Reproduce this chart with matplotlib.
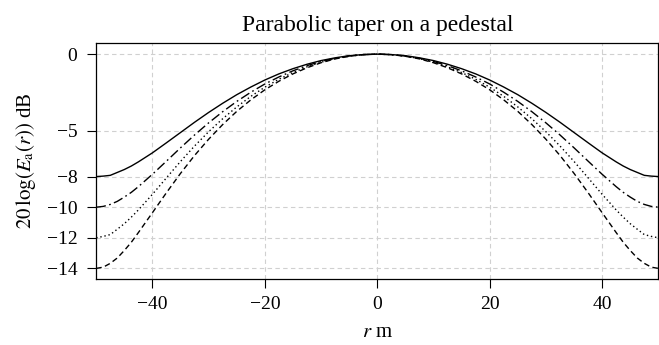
import matplotlib
matplotlib.use("Agg")
import matplotlib.pyplot as plt

# radius positions (m) and edge-taper curves in dB
r = [-50, -48.75, -47.5, -46.25, -45, -43.75, -42.5, -40, -37.5, -35, -32.5, -30, -27.5,
     -25, -22.5, -20, -17.5, -15, -12.5, -10, -7.5, -5, -2.5, 0, 2.5, 5, 7.5, 10, 12.5,
     15, 17.5, 20, 22.5, 25, 27.5, 30, 32.5, 35, 37.5, 40, 42.5, 43.75, 45, 46.25, 47.5,
     48.75, 50]

taper_8 = [-8.00, -7.97, -7.92, -7.73, -7.54, -7.31, -7.04, -6.45, -5.79, -5.12, -4.45,
           -3.81, -3.21, -2.65, -2.15, -1.69, -1.29, -0.95, -0.66, -0.42, -0.24, -0.10,
           -0.03, 0.0, -0.03, -0.10, -0.24, -0.42, -0.66, -0.95, -1.29, -1.69, -2.15,
           -2.65, -3.21, -3.81, -4.45, -5.12, -5.79, -6.45, -7.04, -7.31, -7.54, -7.73,
           -7.92, -7.97, -8.00]
taper_10 = [-10.00, -9.95, -9.82, -9.62, -9.34, -9.03, -8.66, -7.85, -6.99, -6.12, -5.28,
            -4.49, -3.76, -3.09, -2.49, -1.95, -1.49, -1.09, -0.75, -0.48, -0.27, -0.12,
            -0.03, 0.0, -0.03, -0.12, -0.27, -0.48, -0.75, -1.09, -1.49, -1.95, -2.49,
            -3.09, -3.76, -4.49, -5.28, -6.12, -6.99, -7.85, -8.66, -9.03, -9.34, -9.62,
            -9.82, -9.95, -10.00]
taper_12 = [-12.00, -11.91, -11.79, -11.44, -11.08, -10.65, -10.18, -9.16, -8.08, -7.01,
            -6.00, -5.07, -4.22, -3.45, -2.76, -2.16, -1.64, -1.20, -0.83, -0.53, -0.29,
            -0.13, -0.03, 0.0, -0.03, -0.13, -0.29, -0.53, -0.83, -1.20, -1.64, -2.16,
            -2.76, -3.45, -4.22, -5.07, -6.00, -7.01, -8.08, -9.16, -10.18, -10.65, -11.08,
            -11.44, -11.79, -11.91, -12.00]
taper_14 = [-14.00, -13.92, -13.67, -13.32, -12.83, -12.29, -11.66, -10.36, -9.05, -7.79,
            -6.62, -5.56, -4.60, -3.74, -2.99, -2.33, -1.77, -1.29, -0.89, -0.56, -0.31,
            -0.14, -0.03, 0.0, -0.03, -0.14, -0.31, -0.56, -0.89, -1.29, -1.77, -2.33,
            -2.99, -3.74, -4.60, -5.56, -6.62, -7.79, -9.05, -10.36, -11.66, -12.29, -12.83,
            -13.32, -13.67, -13.92, -14.00]

x_ticks = [-40, -20, 0, 20, 40]
y_ticks = [0, -5, -8, -10, -12, -14]

plt.rcParams['font.family'] = ['Liberation Serif', 'DejaVu Serif']
plt.rcParams['mathtext.fontset'] = 'stix'

fig = plt.figure(figsize=(6.59, 3.45), dpi=100)
ax = fig.add_axes([0.146, 0.191, 0.853, 0.684])

# grid first so curves sit on top
for xt in x_ticks:
    ax.axvline(xt, color='#d0d0d0', lw=0.8, ls=(0, (4, 3)), zorder=0)
for yt in y_ticks:
    ax.axhline(yt, color='#d0d0d0', lw=0.8, ls=(0, (4, 3)), zorder=0)

ax.plot(r, taper_8, color='black', lw=1.0, ls='-')
ax.plot(r, taper_10, color='black', lw=1.0, ls=(0, (7, 2.5, 1.2, 2.5)))
ax.plot(r, taper_12, color='black', lw=1.0, ls=(0, (1, 2)))
ax.plot(r, taper_14, color='black', lw=1.0, ls=(0, (4, 2.5)))

ax.set_xlim(-50, 50)
ax.set_ylim(-14.7, 0.72)
ax.set_xticks(x_ticks)
ax.set_yticks(y_ticks)
ax.tick_params(direction='out', length=6.5, width=0.8, labelsize=14)
ax.tick_params(axis='x', pad=6)
ax.tick_params(axis='y', pad=7)
for sp in ax.spines.values():
    sp.set_linewidth(0.9)

ax.set_title('Parabolic taper on a pedestal', fontsize=17, pad=9)
ax.set_xlabel('$r$ m', fontsize=15, labelpad=7)
ax.set_ylabel(r'$20\,\log(E_{\mathrm{a}}(r))$ dB', fontsize=15, labelpad=6)

fig.savefig('out.png', dpi=100)
